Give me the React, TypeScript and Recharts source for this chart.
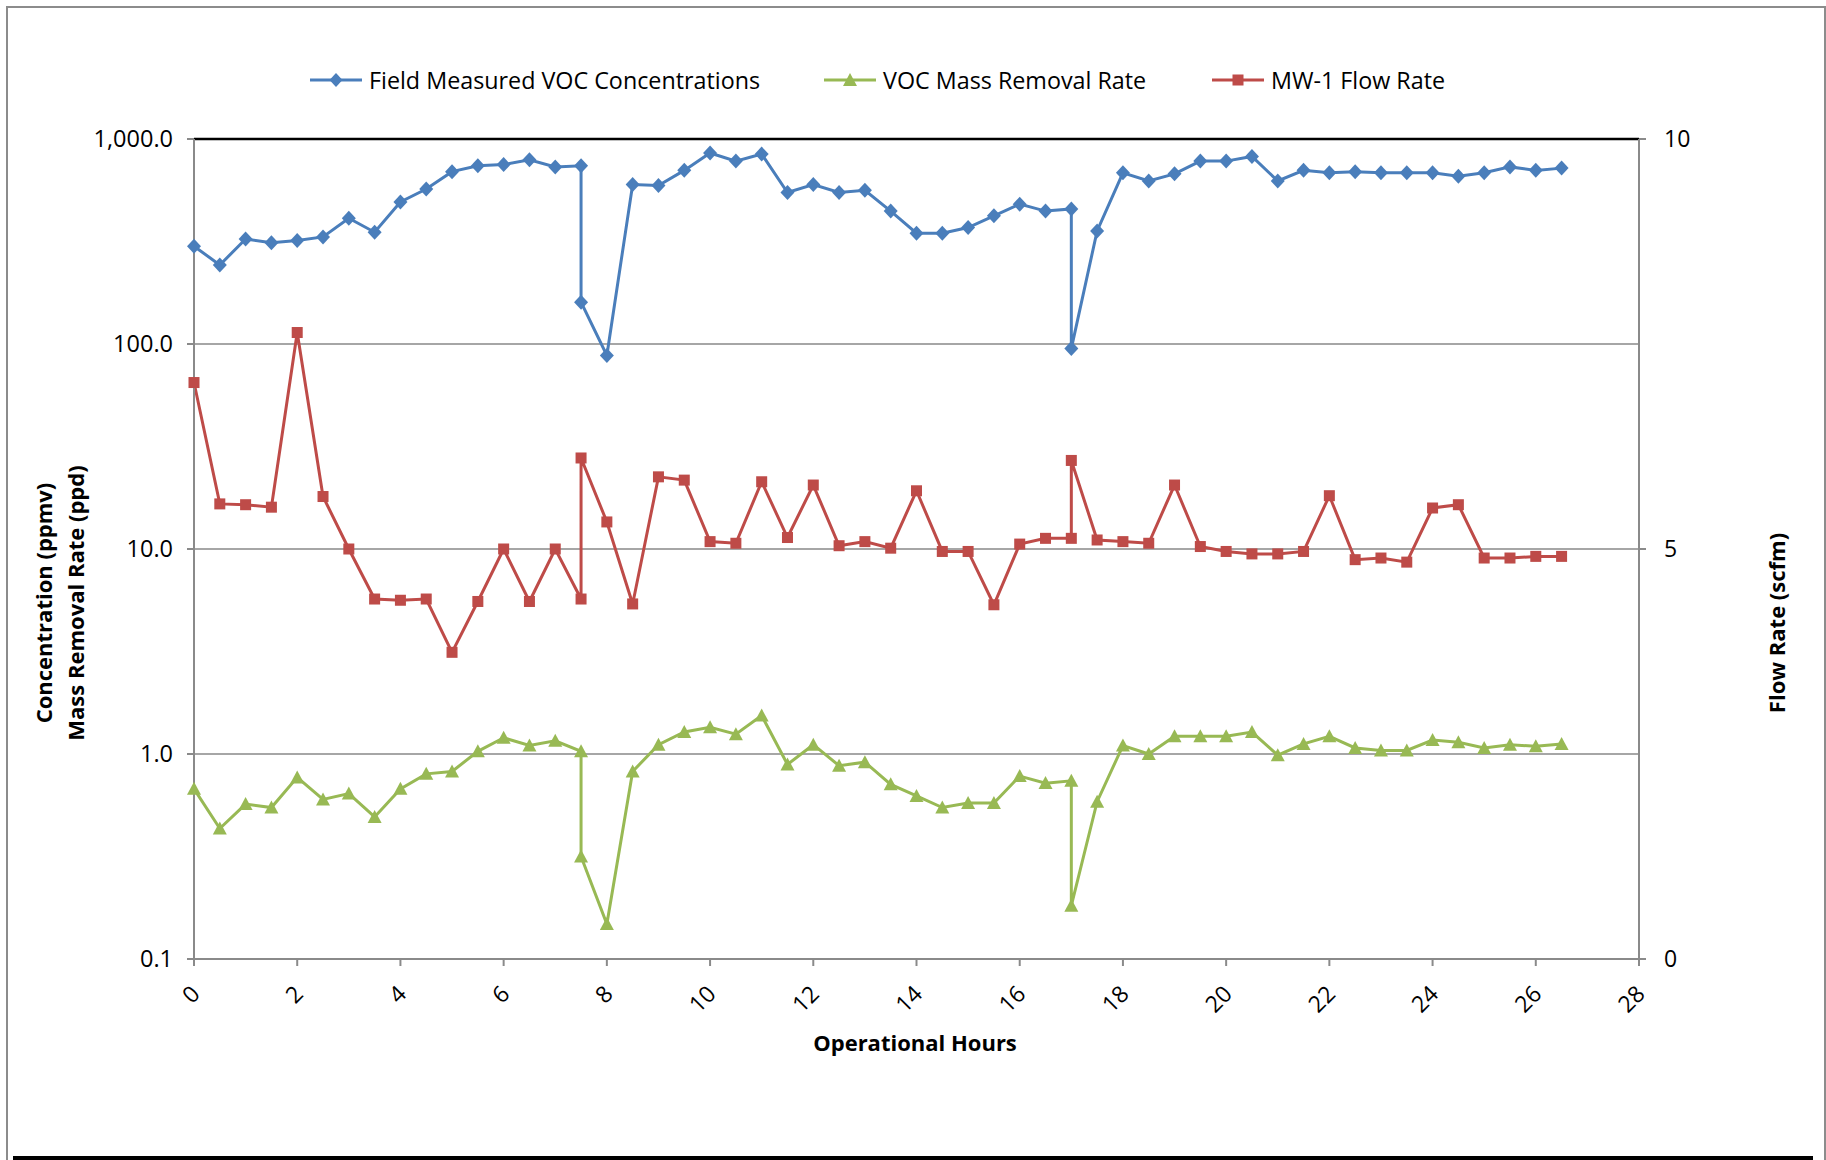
import React from "react";
import { LineChart, Line, XAxis, YAxis, CartesianGrid, ReferenceLine } from "recharts";

// operational hours (7.5 and 17 appear twice: restart readings)
const hours = [
  0, 0.5, 1, 1.5, 2, 2.5, 3, 3.5, 4, 4.5, 5, 5.5, 6, 6.5, 7, 7.5, 7.5,
  8, 8.5, 9, 9.5, 10, 10.5, 11, 11.5, 12, 12.5, 13, 13.5, 14, 14.5, 15, 15.5, 16, 16.5, 17, 17,
  17.5, 18, 18.5, 19, 19.5, 20, 20.5, 21, 21.5, 22, 22.5, 23, 23.5, 24, 24.5, 25, 25.5, 26, 26.5,
];

const vocConc = [
  300, 243, 325, 312, 320, 333, 411, 351, 493, 570, 693, 740, 750, 791, 731, 740, 160,
  88, 600, 593, 703, 855, 780, 844, 548, 600, 548, 562, 445, 347, 347, 370, 422, 481, 445, 456, 95,
  356, 684, 624, 676, 780, 780, 822, 624, 703, 684, 693, 684, 684, 684, 658, 684, 731, 703, 721,
];

const massRemoval = [
  0.676, 0.433, 0.57, 0.548, 0.769, 0.6, 0.641, 0.493, 0.676, 0.8, 0.822, 1.03, 1.2, 1.1, 1.16, 1.03, 0.316,
  0.148, 0.822, 1.11, 1.28, 1.35, 1.25, 1.54, 0.889, 1.11, 0.877, 0.912, 0.711, 0.624, 0.548, 0.577, 0.577, 0.78, 0.721, 0.74, 0.182,
  0.585, 1.1, 1.0, 1.22, 1.22, 1.22, 1.28, 0.987, 1.12, 1.22, 1.07, 1.04, 1.04, 1.17, 1.14, 1.07, 1.11, 1.09, 1.12,
];

const flowRate = [
  7.03, 5.55, 5.54, 5.51, 7.64, 5.64, 5.0, 4.39, 4.375, 4.39, 3.74, 4.36, 5.0, 4.36, 5.0, 4.39, 6.11,
  5.33, 4.33, 5.88, 5.84, 5.09, 5.07, 5.82, 5.14, 5.78, 5.04, 5.09, 5.01, 5.71, 4.97, 4.97, 4.32, 5.06, 5.13, 5.13, 6.08,
  5.11, 5.09, 5.07, 5.78, 5.03, 4.97, 4.94, 4.94, 4.97, 5.65, 4.87, 4.89, 4.84, 5.5, 5.54, 4.89, 4.89, 4.91, 4.91,
];

const xTicks = [0, 2, 4, 6, 8, 10, 12, 14, 16, 18, 20, 22, 24, 26, 28];
const logTicks = [0.1, 1, 10, 100, 1000];
const flowTicks = [0, 5, 10];

const BLUE = "#4a7ebb";
const GREEN = "#98b954";
const RED = "#be4b48";
const AXIS = "#8a8a8a";
const GRID = "#a6a6a6";
const FONT = "'Open Sans', sans-serif";

const rows = hours.map((h, i) => ({
  h,
  voc: vocConc[i],
  mass: massRemoval[i],
  flow: flowRate[i],
}));

const fmtLog = (v: number) =>
  v.toLocaleString("en-US", { minimumFractionDigits: 1, maximumFractionDigits: 1 });

function Diamond(p: any) {
  const { cx, cy, index } = p;
  if (cx == null || cy == null) return <g key={index} />;
  return <path key={index} d={`M${cx},${cy - 7.5}L${cx + 7},${cy}L${cx},${cy + 7.5}L${cx - 7},${cy}Z`} fill={BLUE} />;
}
function Triangle(p: any) {
  const { cx, cy, index } = p;
  if (cx == null || cy == null) return <g key={index} />;
  return <path key={index} d={`M${cx},${cy - 7}L${cx + 7},${cy + 6}L${cx - 7},${cy + 6}Z`} fill={GREEN} />;
}
function Square(p: any) {
  const { cx, cy, index } = p;
  if (cx == null || cy == null) return <g key={index} />;
  return <rect key={index} x={cx - 5.5} y={cy - 5.5} width={11} height={11} fill={RED} />;
}

function XTick(p: any) {
  const { x, y, payload } = p;
  const ax = x + 1;
  const ay = y + 21;
  return (
    <text x={ax} y={ay} transform={`rotate(-45, ${ax}, ${ay})`} textAnchor="end" dominantBaseline="central"
      fontSize={23} fontFamily={FONT} fill="#000">
      {payload.value}
    </text>
  );
}

function LegendItem({ left, color, shape, label }: { left: number; color: string; shape: string; label: string }) {
  return (
    <div style={{ position: "absolute", left, top: 66, display: "flex", alignItems: "center", height: 28 }}>
      <svg width={52} height={20}>
        <line x1={0} y1={10} x2={52} y2={10} stroke={color} strokeWidth={3} />
        {shape === "diamond" && <path d="M26,3L32.5,10L26,17L19.5,10Z" fill={color} />}
        {shape === "triangle" && <path d="M26,3L33,16L19,16Z" fill={color} />}
        {shape === "square" && <rect x={20.5} y={4.5} width={11} height={11} fill={color} />}
      </svg>
      <span style={{ marginLeft: 7, fontSize: 23.3, fontFamily: FONT, color: "#000", whiteSpace: "nowrap" }}>{label}</span>
    </div>
  );
}

export default function App() {
  return (
    <div style={{ position: "absolute", left: 0, top: 0, width: 1826, height: 1160, background: "#fff", overflow: "hidden" }}>
      <div style={{ position: "absolute", left: 6, top: 6, width: 1816, height: 1170, border: "2px solid #8c8c8c" }} />
      <div style={{ position: "absolute", left: 13, top: 1156, width: 1800, height: 4, background: "#000" }} />

      <LegendItem left={310} color={BLUE} shape="diamond" label="Field Measured VOC Concentrations" />
      <LegendItem left={824} color={GREEN} shape="triangle" label="VOC Mass Removal Rate" />
      <LegendItem left={1212} color={RED} shape="square" label="MW-1 Flow Rate" />

      <div style={{ position: "absolute", left: 0, top: 0 }}>
        <LineChart width={1826} height={1160} data={rows} margin={{ top: 139, right: 87, bottom: 141, left: 94 }}>
          <CartesianGrid yAxisId="left" vertical={false} horizontalValues={logTicks} stroke={GRID} strokeWidth={2} />
          <XAxis dataKey="h" type="number" domain={[0, 28]} ticks={xTicks} interval={0} height={60}
            axisLine={{ stroke: AXIS, strokeWidth: 2 }} tickLine={{ stroke: AXIS, strokeWidth: 2 }}
            tickSize={7} tick={<XTick />} />
          <YAxis yAxisId="left" scale="log" domain={[0.1, 1000]} ticks={logTicks} allowDataOverflow width={100}
            tickFormatter={fmtLog} interval={0}
            axisLine={{ stroke: AXIS, strokeWidth: 2 }} tickLine={{ stroke: AXIS, strokeWidth: 2 }}
            tickSize={7} tickMargin={14} tick={{ fontSize: 23.5, fontFamily: FONT, fill: "#000" }} />
          <YAxis yAxisId="right" orientation="right" domain={[0, 10]} ticks={flowTicks} width={100} interval={0}
            axisLine={{ stroke: AXIS, strokeWidth: 2 }} tickLine={{ stroke: AXIS, strokeWidth: 2 }}
            tickSize={7} tickMargin={18} tick={{ fontSize: 23, fontFamily: FONT, fill: "#000", textAnchor: "start" }} />
          <ReferenceLine yAxisId="left" y={1000} stroke="#000" strokeWidth={2.5} />
          <Line yAxisId="left" dataKey="voc" stroke={BLUE} strokeWidth={3} dot={Diamond} activeDot={false} isAnimationActive={false} />
          <Line yAxisId="left" dataKey="mass" stroke={GREEN} strokeWidth={3} dot={Triangle} activeDot={false} isAnimationActive={false} />
          <Line yAxisId="right" dataKey="flow" stroke={RED} strokeWidth={3} dot={Square} activeDot={false} isAnimationActive={false} />
        </LineChart>
      </div>

      <div style={{ position: "absolute", left: 915, top: 1042, transform: "translate(-50%, -50%)", fontSize: 22, fontWeight: 700, fontFamily: FONT, whiteSpace: "nowrap" }}>
        Operational Hours
      </div>
      <div style={{ position: "absolute", left: 59, top: 603, transform: "translate(-50%, -50%) rotate(-90deg)", fontSize: 22, fontWeight: 700, fontFamily: FONT, whiteSpace: "nowrap", textAlign: "center", lineHeight: "32px" }}>
        Concentration (ppmv)<br />Mass Removal Rate (ppd)
      </div>
      <div style={{ position: "absolute", left: 1776, top: 623, transform: "translate(-50%, -50%) rotate(-90deg)", fontSize: 22, fontWeight: 700, fontFamily: FONT, whiteSpace: "nowrap" }}>
        Flow Rate (scfm)
      </div>
    </div>
  );
}
